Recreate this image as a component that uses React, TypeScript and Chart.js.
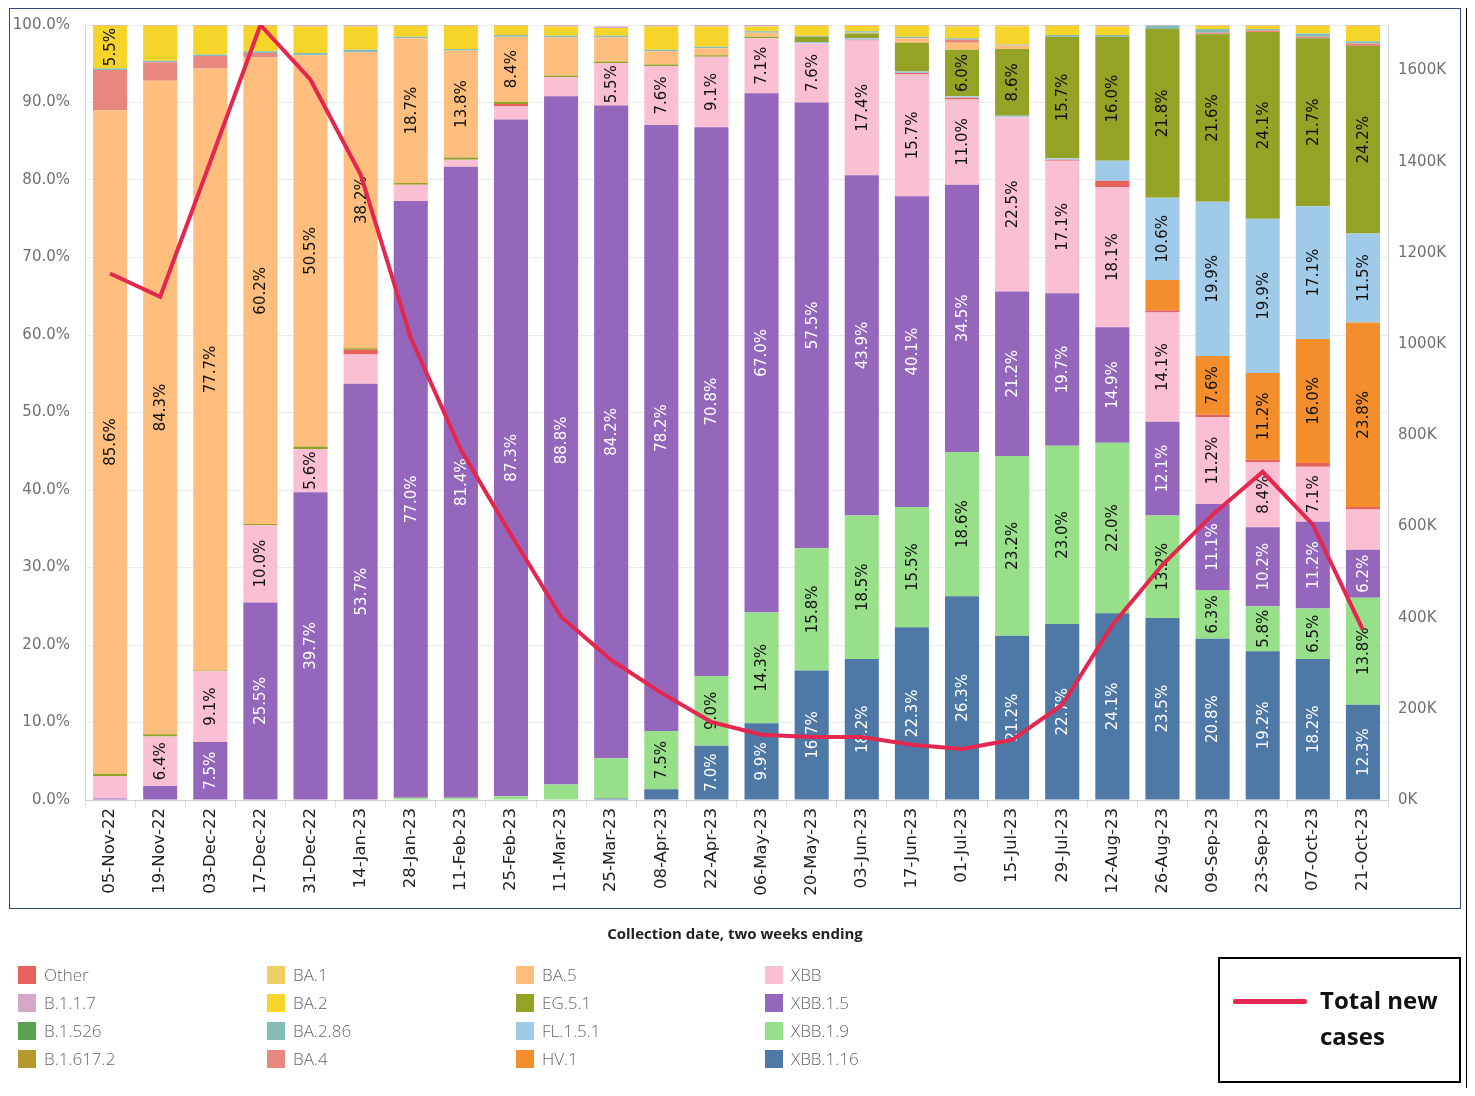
import React, { useEffect, useRef } from 'react';
import { Chart, registerables } from 'chart.js';

Chart.register(...registerables);

const categories = [
  '05-Nov-22', '19-Nov-22', '03-Dec-22', '17-Dec-22', '31-Dec-22', '14-Jan-23', '28-Jan-23',
  '11-Feb-23', '25-Feb-23', '11-Mar-23', '25-Mar-23', '08-Apr-23', '22-Apr-23', '06-May-23',
  '20-May-23', '03-Jun-23', '17-Jun-23', '01-Jul-23', '15-Jul-23', '29-Jul-23', '12-Aug-23',
  '26-Aug-23', '09-Sep-23', '23-Sep-23', '07-Oct-23', '21-Oct-23',
];

// Total new cases, thousands
const totalNewCases = [
  1155, 1104, 1400, 1700, 1580, 1372, 1014, 768, 582, 402, 307, 235, 171, 143,
  138, 138, 121, 112, 132, 209, 384, 516, 626, 720, 604, 373,
];

// Variant shares, percent (stacked bottom to top in this order)
const xbb116 = [0, 0, 0, 0, 0, 0, 0, 0, 0, 0, 0.2, 1.4, 7.0, 9.9, 16.7, 18.2, 22.3, 26.3, 21.2, 22.7, 24.1, 23.5, 20.8, 19.2, 18.2, 12.3];
const xbb19 = [0, 0, 0, 0, 0, 0, 0.3, 0.3, 0.5, 2.0, 5.2, 7.5, 9.0, 14.3, 15.8, 18.5, 15.5, 18.6, 23.2, 23.0, 22.0, 13.2, 6.3, 5.8, 6.5, 13.8];
const xbb15 = [0.2, 1.8, 7.5, 25.5, 39.7, 53.7, 77.0, 81.4, 87.3, 88.8, 84.2, 78.2, 70.8, 67.0, 57.5, 43.9, 40.1, 34.5, 21.2, 19.7, 14.9, 12.1, 11.1, 10.2, 11.2, 6.2];
const xbb = [2.9, 6.4, 9.1, 10.0, 5.6, 3.8, 2.1, 0.9, 1.7, 2.5, 5.5, 7.6, 9.1, 7.1, 7.6, 17.4, 15.7, 11.0, 22.5, 17.1, 18.1, 14.1, 11.2, 8.4, 7.1, 5.2];
const other = [0, 0, 0, 0, 0, 0.6, 0, 0, 0.3, 0, 0, 0, 0, 0, 0, 0.1, 0.2, 0.2, 0, 0.1, 0.8, 0.3, 0.3, 0.3, 0.5, 0.3];
const hv1 = [0, 0, 0, 0, 0, 0, 0, 0, 0, 0, 0, 0, 0, 0, 0, 0, 0, 0, 0, 0, 0, 3.9, 7.6, 11.2, 16.0, 23.8];
const fl151 = [0, 0, 0, 0, 0, 0, 0, 0, 0, 0, 0, 0, 0, 0, 0.2, 0.2, 0.2, 0.2, 0.2, 0.2, 2.6, 10.6, 19.9, 19.9, 17.1, 11.5];
const eg51 = [0.3, 0.3, 0.1, 0.1, 0.3, 0.2, 0.2, 0.3, 0.3, 0.2, 0.2, 0.2, 0.2, 0.2, 0.7, 0.6, 3.7, 6.0, 8.6, 15.7, 16.0, 21.8, 21.6, 24.1, 21.7, 24.2];
const b16172 = [0, 0, 0, 0, 0, 0, 0, 0, 0, 0, 0, 0, 0, 0, 0, 0, 0, 0, 0, 0, 0, 0, 0, 0, 0, 0];
const b1526 = [0, 0, 0, 0, 0, 0, 0, 0, 0, 0, 0, 0, 0, 0, 0, 0, 0, 0, 0, 0, 0, 0, 0, 0, 0, 0];
const ba5 = [85.6, 84.3, 77.7, 60.2, 50.5, 38.2, 18.7, 13.8, 8.4, 4.9, 3.1, 1.7, 0.9, 0.5, 0, 0.1, 0.6, 0.9, 0.5, 0, 0, 0, 0, 0, 0, 0];
const ba4 = [5.2, 2.4, 1.6, 0.6, 0, 0, 0, 0, 0, 0, 0, 0, 0, 0, 0, 0, 0, 0.4, 0, 0, 0, 0, 0.2, 0.2, 0.2, 0.3];
const ba286 = [0.2, 0.2, 0.2, 0.2, 0.3, 0.3, 0.2, 0.2, 0.2, 0.2, 0.2, 0.2, 0.2, 0.2, 0.1, 0.2, 0.2, 0.2, 0.1, 0.2, 0.2, 0.4, 0.5, 0.2, 0.4, 0.3];
const ba2 = [5.5, 4.5, 3.7, 3.3, 3.4, 3.0, 1.4, 3.0, 1.2, 1.2, 1.0, 3.0, 2.6, 0.6, 1.3, 0.7, 1.4, 1.5, 2.3, 1.2, 1.1, 0, 0.4, 0.4, 1.0, 2.0];
const ba1 = [0, 0, 0, 0, 0, 0, 0, 0, 0, 0, 0, 0, 0, 0, 0, 0, 0, 0, 0.1, 0, 0, 0, 0, 0, 0, 0];
const b117 = [0.1, 0.1, 0.1, 0.1, 0.2, 0.2, 0.1, 0.1, 0.1, 0.2, 0.2, 0.2, 0.2, 0.2, 0.1, 0.1, 0.1, 0.2, 0.1, 0.1, 0.2, 0.1, 0.1, 0.1, 0.1, 0.1];

const variantColors: Record<string, string> = {
  'Other': '#E8625D',
  'B.1.1.7': '#D4A6C8',
  'B.1.526': '#59A14F',
  'B.1.617.2': '#B6992D',
  'BA.1': '#F1CE63',
  'BA.2': '#F7D42A',
  'BA.2.86': '#86BCB6',
  'BA.4': '#E8877F',
  'BA.5': '#FFBE7D',
  'EG.5.1': '#94A326',
  'FL.1.5.1': '#A0CBE8',
  'HV.1': '#F28E2B',
  'XBB': '#FABFD2',
  'XBB.1.5': '#9467BD',
  'XBB.1.9': '#98DF8A',
  'XBB.1.16': '#4E79A7',
};

const stackOrder: [string, number[]][] = [
  ['XBB.1.16', xbb116], ['XBB.1.9', xbb19], ['XBB.1.5', xbb15], ['XBB', xbb], ['Other', other],
  ['HV.1', hv1], ['FL.1.5.1', fl151], ['EG.5.1', eg51], ['B.1.617.2', b16172], ['B.1.526', b1526],
  ['BA.5', ba5], ['BA.4', ba4], ['BA.2.86', ba286], ['BA.2', ba2], ['BA.1', ba1], ['B.1.1.7', b117],
];

const legendOrder = [
  'Other', 'B.1.1.7', 'B.1.526', 'B.1.617.2',
  'BA.1', 'BA.2', 'BA.2.86', 'BA.4',
  'BA.5', 'EG.5.1', 'FL.1.5.1', 'HV.1',
  'XBB', 'XBB.1.5', 'XBB.1.9', 'XBB.1.16',
];

const whiteLabelVariants = ['XBB.1.16', 'XBB.1.5'];
const LINE_COLOR = '#E5264E';

const barLabelPlugin = {
  id: 'barLabels',
  beforeDatasetDraw(chart: any, args: any) {
    if (args.index !== 0) return;
    const ctx = chart.ctx;
    ctx.save();
    ctx.font = '15px "DejaVu Sans"';
    ctx.textAlign = 'center';
    ctx.textBaseline = 'middle';
    chart.data.datasets.forEach((ds: any, di: number) => {
      if (ds.type !== 'bar') return;
      const meta = chart.getDatasetMeta(di);
      meta.data.forEach((el: any, i: number) => {
        const v = ds.data[i];
        if (v < 5.45) return;
        const p = el.getProps(['x', 'y', 'base'], true);
        ctx.save();
        ctx.translate(p.x, (p.y + p.base) / 2);
        ctx.rotate(-Math.PI / 2);
        ctx.fillStyle = whiteLabelVariants.includes(ds.label) ? '#ffffff' : '#111111';
        ctx.fillText(v.toFixed(1) + '%', 0, 1);
        ctx.restore();
      });
    });
    ctx.restore();
  },
};

function VariantChart() {
  const ref = useRef<HTMLCanvasElement>(null);
  useEffect(() => {
    if (!ref.current) return;
    Chart.defaults.font.family = '"DejaVu Sans"';
    const datasets: any[] = [
      {
        type: 'line',
        label: 'Total new cases',
        data: totalNewCases,
        yAxisID: 'y1',
        borderColor: LINE_COLOR,
        backgroundColor: LINE_COLOR,
        borderWidth: 4,
        pointRadius: 0,
        tension: 0,
        order: 0,
      },
      ...stackOrder.map(([name, values]) => ({
        type: 'bar',
        label: name,
        data: values,
        yAxisID: 'y',
        backgroundColor: variantColors[name],
        borderWidth: 0,
        barPercentage: 0.68,
        categoryPercentage: 1,
        order: 1,
      })),
    ];
    const chart = new Chart(ref.current, {
      type: 'bar',
      data: { labels: categories, datasets },
      options: {
        responsive: false,
        maintainAspectRatio: false,
        animation: false,
        layout: { padding: { top: 0, left: 0, right: 0, bottom: 0 } },
        plugins: { legend: { display: false }, tooltip: { enabled: false } },
        scales: {
          x: {
            stacked: true,
            grid: { offset: true, drawOnChartArea: false, drawTicks: true, tickLength: 8, color: '#e2e2e2' },
            border: { color: '#cfcfcf' },
            ticks: { minRotation: 90, maxRotation: 90, autoSkip: false, padding: 0, color: '#222', font: { size: 16.5 } },
            afterFit: (s: any) => { s.height = 107; },
          },
          y: {
            stacked: true,
            min: 0,
            max: 100,
            ticks: { stepSize: 10, callback: (v: any) => Number(v).toFixed(1) + '%', color: '#707070', padding: 15, font: { size: 15 } },
            grid: { color: '#ebebeb', drawTicks: false },
            border: { color: '#d4d4d4' },
            afterFit: (s: any) => { s.width = 75; },
          },
          y1: {
            position: 'right',
            min: 0,
            max: 1700,
            grid: { drawOnChartArea: false, drawTicks: false },
            border: { color: '#d4d4d4' },
            ticks: { stepSize: 200, callback: (v: any) => v + 'K', padding: 10, color: '#707070', font: { size: 15 } },
            afterBuildTicks: (s: any) => { s.ticks = s.ticks.filter((t: any) => t.value <= 1600); },
            afterFit: (s: any) => { s.width = 72; },
          },
        },
      } as any,
      plugins: [barLabelPlugin],
    });
    return () => chart.destroy();
  }, []);
  return (
    <canvas
      ref={ref}
      width={1450}
      height={906}
      style={{ position: 'absolute', left: 2, top: -7, width: 1450, height: 906, display: 'block' }}
    />
  );
}

export default function App() {
  return (
    <div style={{ position: 'relative', width: 1459, height: 1080, fontFamily: '"Open Sans", sans-serif' }}>
      <VariantChart />
      <div
        style={{
          position: 'absolute', left: -2, top: -2, width: 1462, height: 1088, boxSizing: 'border-box',
          borderTop: '2px solid #000', borderLeft: '2px solid #000', borderRight: '2px solid #000',
          pointerEvents: 'none',
        }}
      />
      <div
        style={{
          position: 'absolute', left: 1, top: 0, width: 1452, height: 901, boxSizing: 'border-box',
          border: '1.5px solid #2E4A7D', pointerEvents: 'none',
        }}
      />
      <div
        style={{
          position: 'absolute', left: 727, top: 915, transform: 'translateX(-50%)', whiteSpace: 'nowrap',
          fontFamily: '"Open Sans", sans-serif', fontWeight: 700, fontSize: 15, color: '#222', lineHeight: '20px',
        }}
      >
        Collection date, two weeks ending
      </div>
      {legendOrder.map((name, i) => {
        const col = Math.floor(i / 4);
        const row = i % 4;
        return (
          <div
            key={name}
            style={{
              position: 'absolute', left: 10 + col * 249, top: 958 + row * 28, height: 18,
              display: 'flex', alignItems: 'center', whiteSpace: 'nowrap',
            }}
          >
            <div style={{ width: 18, height: 18, background: variantColors[name], marginRight: 8 }} />
            <span style={{ fontFamily: '"Open Sans", sans-serif', fontWeight: 300, fontSize: 17, color: '#666', lineHeight: '18px' }}>{name}</span>
          </div>
        );
      })}
      <div
        style={{
          position: 'absolute', left: 1210, top: 949, width: 243, height: 126, boxSizing: 'border-box',
          border: '2px solid #000', background: '#fff',
        }}
      >
        <div style={{ position: 'absolute', left: 13, top: 40, width: 74, height: 5, background: LINE_COLOR, borderRadius: 2 }} />
        <div
          style={{
            position: 'absolute', left: 100, top: 23, fontFamily: '"Open Sans", sans-serif', fontWeight: 700,
            fontSize: 24, lineHeight: '36px', color: '#111', textAlign: 'left', whiteSpace: 'nowrap',
          }}
        >
          Total new<br />cases
        </div>
      </div>
    </div>
  );
}
